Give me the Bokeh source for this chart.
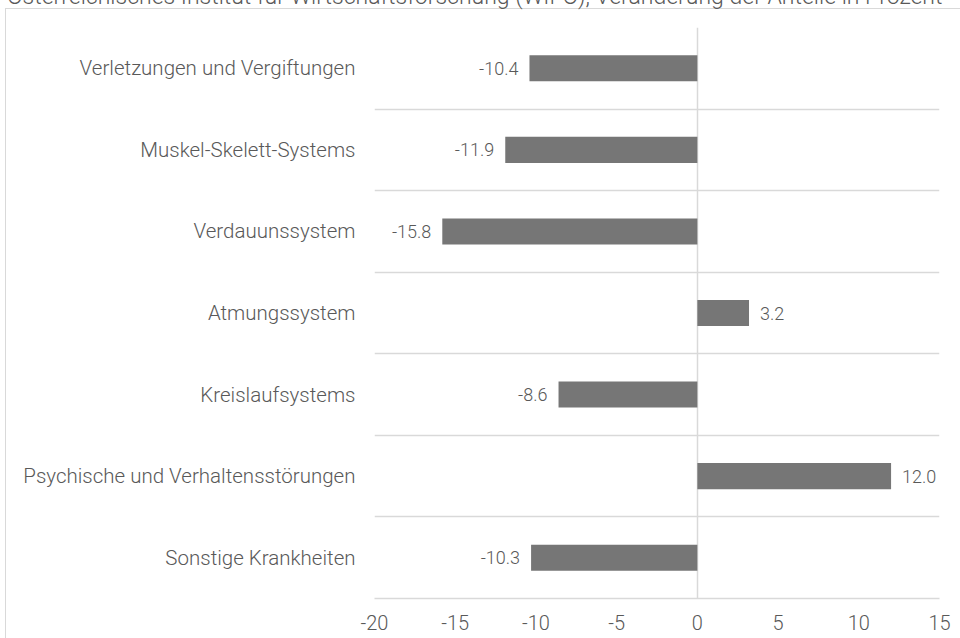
from bokeh.plotting import figure
from bokeh.models import (ColumnDataSource, Range1d, FixedTicker,
                          GlobalInlineStyleSheet, InlineStyleSheet)
from bokeh.core.properties import value
from bokeh.embed import file_html
from bokeh.resources import INLINE

title_text = "Österreichisches Institut für Wirtschaftsforschung (WIFO), Veränderung der Anteile in Prozent"

# categories listed top to bottom
categories = [
    "Verletzungen und Vergiftungen",
    "Muskel-Skelett-Systems",
    "Verdauunssystem",
    "Atmungssystem",
    "Kreislaufsystems",
    "Psychische und Verhaltensstörungen",
    "Sonstige Krankheiten",
]
values = [-10.4, -11.9, -15.8, 3.2, -8.6, 12.0, -10.3]
x_ticks = [-20, -15, -10, -5, 0, 5, 10, 15]

FONT = "Roboto Light"
TXT = "#595959"
GRID = "#d9d9d9"
BAR = "#767676"

W, H = 960, 638
FL, FR, FT, FB = 374, 939, 27, 598   # frame edges on the canvas (px)
XMIN, XMAX = x_ticks[0], x_ticks[-1]

n = len(categories)
ypos = [n - i - 0.5 for i in range(n)]  # top category at top
labels = [f"{v:.1f}" for v in values]
aligns = ["right" if v < 0 else "left" for v in values]
xoffs = [-11 if v < 0 else 11 for v in values]

src = ColumnDataSource(dict(y=ypos, v=values, lab=labels, al=aligns, xo=xoffs))

# CSS-escaped title (cut off at the top edge, as in the picture)
css_title = "".join(c if ord(c) < 128 else "\\%X " % ord(c) for c in title_text)

frame_css = InlineStyleSheet(css="""
:host { position: relative; overflow: hidden; }
:host::before {
  content: "%s";
  position: absolute;
  left: 7px; top: -15px;
  font-family: 'Roboto Light', Roboto, sans-serif;
  font-size: 23px; line-height: 23px;
  color: #595959;
  white-space: nowrap;
  pointer-events: none;
  z-index: 11;
}
:host::after {
  content: "";
  position: absolute;
  left: 5px; top: 8px; width: 955px; height: 630px;
  box-sizing: border-box;
  border-top: 1.5px solid #d9d9d9;
  border-left: 1.5px solid #d9d9d9;
  pointer-events: none;
  z-index: 10;
}
""" % css_title)

no_scroll = GlobalInlineStyleSheet(css="html, body { overflow: hidden !important; }")

p = figure(width=W, height=H, output_backend="svg", toolbar_location=None,
           x_range=Range1d(XMIN, XMAX), y_range=Range1d(0, n),
           min_border_left=FL, min_border_right=W - FR,
           min_border_top=FT, min_border_bottom=H - FB,
           stylesheets=[frame_css, no_scroll])
p.background_fill_color = "white"
p.border_fill_color = "white"
p.outline_line_color = None

p.hbar(y="y", left=0, right="v", height=0.32, source=src,
       fill_color=BAR, line_color=None)

p.text(x="v", y="y", text="lab", source=src, x_offset="xo",
       text_align="al", text_baseline="middle",
       text_font=value(FONT), text_font_size="18px", text_color=TXT)

# x axis
p.xaxis.ticker = FixedTicker(ticks=x_ticks)
p.xaxis.major_label_overrides = {t: str(t) for t in x_ticks}
p.xaxis.axis_line_color = GRID
p.xaxis.axis_line_width = 1.5
p.xaxis.major_tick_line_color = None
p.xaxis.major_tick_out = 0
p.xaxis.major_tick_in = 0
p.xaxis.minor_tick_line_color = None
p.xaxis.major_label_standoff = 16
p.xaxis.major_label_text_font = FONT
p.xaxis.major_label_text_font_size = "20px"
p.xaxis.major_label_text_color = TXT

# y axis with category names
p.yaxis.ticker = FixedTicker(ticks=ypos)
p.yaxis.major_label_overrides = {y: c for y, c in zip(ypos, categories)}
p.yaxis.axis_line_color = None
p.yaxis.major_tick_line_color = None
p.yaxis.major_tick_out = 0
p.yaxis.major_tick_in = 0
p.yaxis.minor_tick_line_color = None
p.yaxis.major_label_standoff = 19
p.yaxis.major_label_text_font = FONT
p.yaxis.major_label_text_font_size = "20.5px"
p.yaxis.major_label_text_color = TXT

# grid: horizontal lines between categories, vertical line at zero
p.ygrid.ticker = FixedTicker(ticks=list(range(1, n + 1)))
p.ygrid.grid_line_color = GRID
p.ygrid.grid_line_width = 1.5
p.xgrid.ticker = FixedTicker(ticks=[0])
p.xgrid.grid_line_color = GRID
p.xgrid.grid_line_width = 1.5

open("out.html", "w", encoding="utf-8").write(file_html(p, INLINE))
